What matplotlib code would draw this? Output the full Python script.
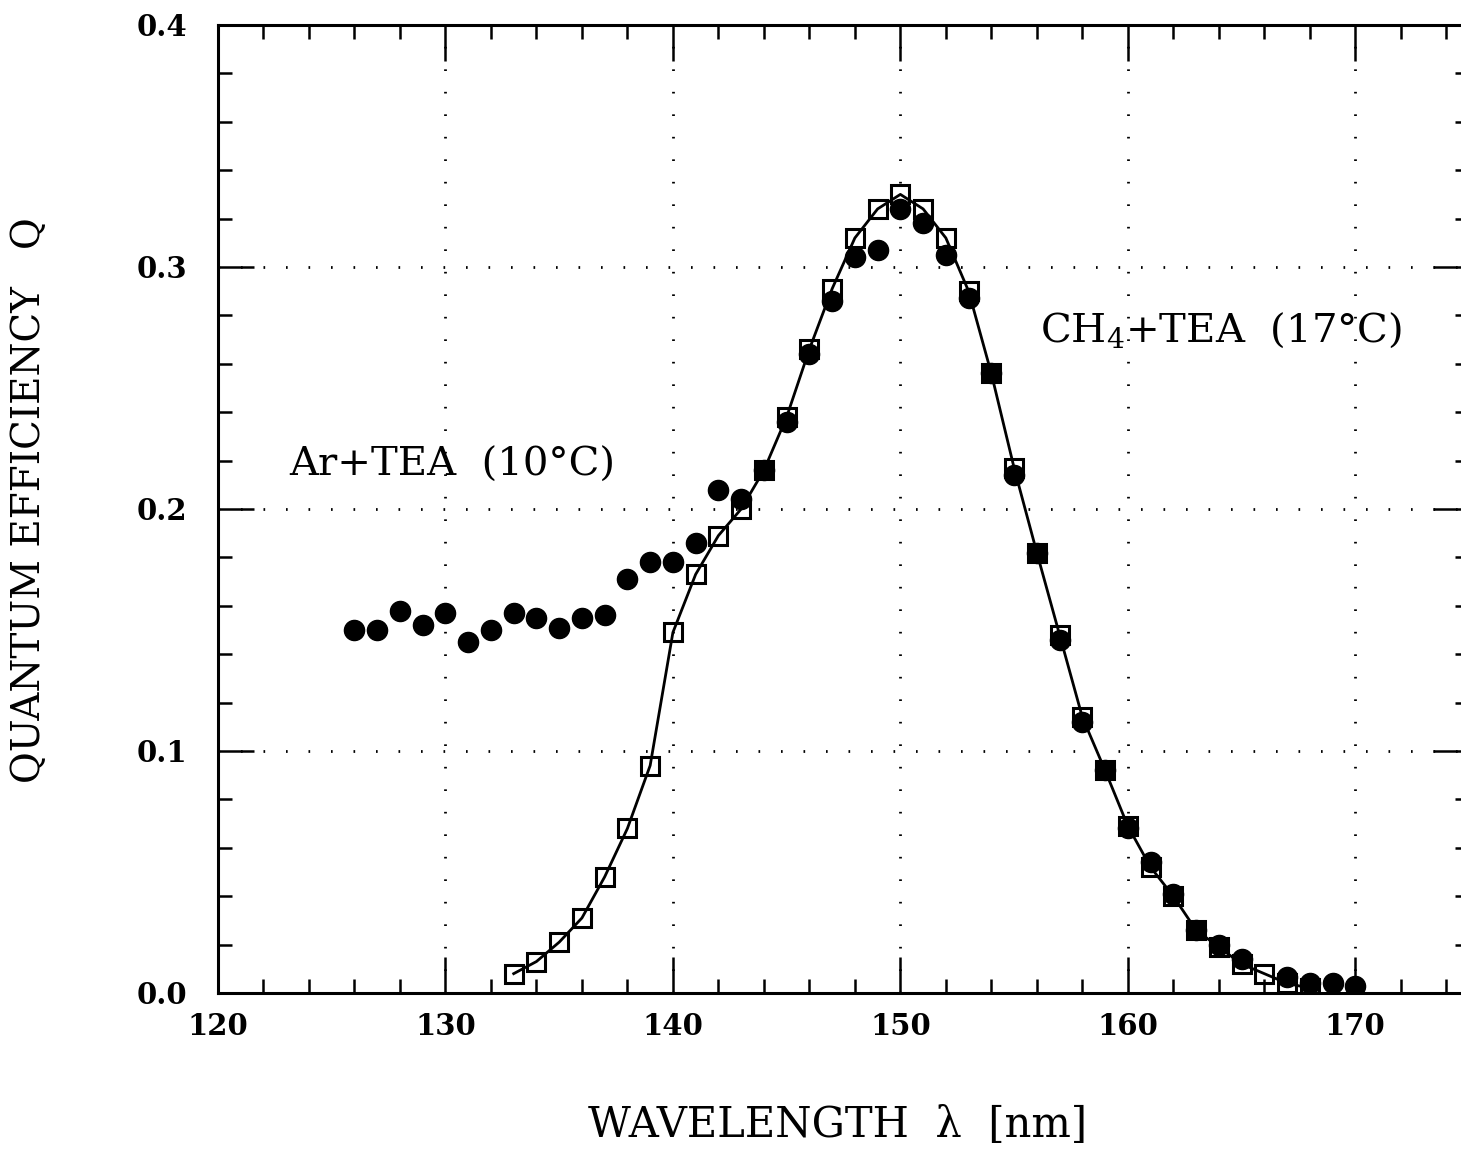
import numpy as np
import matplotlib.pyplot as plt
from matplotlib.ticker import MultipleLocator

plt.rcParams['font.family'] = ['DejaVu Serif']
plt.rcParams['mathtext.fontset'] = 'dejavuserif'

# Ar+TEA (10 C), filled circles
wl_ar = [126, 127, 128, 129, 130, 131, 132, 133, 134, 135, 136, 137, 138, 139,
         140, 141, 142, 143, 144, 145, 146, 147, 148, 149, 150, 151, 152, 153,
         154, 155, 156, 157, 158, 159, 160, 161, 162, 163, 164, 165, 167, 168,
         169, 170]
qe_ar = [0.150, 0.150, 0.158, 0.152, 0.157, 0.145, 0.150, 0.157, 0.155, 0.151,
         0.155, 0.156, 0.171, 0.178, 0.178, 0.186, 0.208, 0.204, 0.216, 0.236,
         0.264, 0.286, 0.304, 0.307, 0.324, 0.318, 0.305, 0.287, 0.256, 0.214,
         0.182, 0.146, 0.112, 0.092, 0.068, 0.054, 0.041, 0.026, 0.020, 0.014,
         0.0066, 0.004, 0.004, 0.003]

# CH4+TEA (17 C), open squares joined by a line
wl_ch4 = list(range(133, 169))
qe_ch4 = [0.008, 0.013, 0.021, 0.031, 0.048, 0.068, 0.094, 0.149, 0.173, 0.189,
          0.200, 0.216, 0.238, 0.266, 0.291, 0.312, 0.324, 0.330, 0.324, 0.312,
          0.290, 0.256, 0.217, 0.182, 0.148, 0.114, 0.092, 0.069, 0.052, 0.040,
          0.026, 0.019, 0.012, 0.008, 0.004, 0.002]

fig = plt.figure(figsize=(14.61, 11.51), dpi=100)
ax = fig.add_axes([218 / 1461, 158 / 1151, 1251 / 1461, 968 / 1151])

ax.plot(wl_ch4, qe_ch4, color='black', lw=2.0, zorder=2)
ax.plot(wl_ar, qe_ar, 'o', color='black', ms=14.5, zorder=3)
ax.plot(wl_ch4, qe_ch4, 's', mfc='none', mec='black', mew=2.2, ms=12.5, zorder=4)

ax.set_xlim(120, 175)
ax.set_ylim(0, 0.4)
ax.xaxis.set_minor_locator(MultipleLocator(2))
ax.yaxis.set_minor_locator(MultipleLocator(0.02))
ax.set_xticks([120, 130, 140, 150, 160, 170])
ax.set_xticklabels(['120', '130', '140', '150', '160', '170'])
ax.set_yticks([0.0, 0.1, 0.2, 0.3, 0.4])
ax.set_yticklabels(['0.0', '0.1', '0.2', '0.3', '0.4'])

ax.tick_params(which='both', direction='in', top=True, right=True,
               width=1.8, labelsize=21)
ax.tick_params(which='major', length=26)
ax.tick_params(which='minor', length=10)
ax.tick_params(axis='y', pad=22)
ax.tick_params(axis='x', pad=14)
for lbl in ax.get_xticklabels() + ax.get_yticklabels():
    lbl.set_fontweight('bold')
for sp in ax.spines.values():
    sp.set_linewidth(2.2)

ax.grid(True, which='major', color='black', lw=2.0, linestyle=(0, (0.6, 7.5)))

ax.text(130.3, 0.218, 'Ar+TEA  (10°C)', fontsize=29, ha='center', va='center')
ax.text(164.1, 0.274, 'CH$_4$+TEA  (17°C)', fontsize=29, ha='center', va='center')

fig.text(30 / 1461, 1 - 500 / 1151, 'QUANTUM EFFICIENCY   Q', rotation=90,
         fontsize=28, ha='center', va='center')
fig.text(838 / 1461, 1 - 1125 / 1151, 'WAVELENGTH  λ  [nm]',
         fontsize=30, ha='center', va='center')

fig.savefig('out.png', dpi=100)
